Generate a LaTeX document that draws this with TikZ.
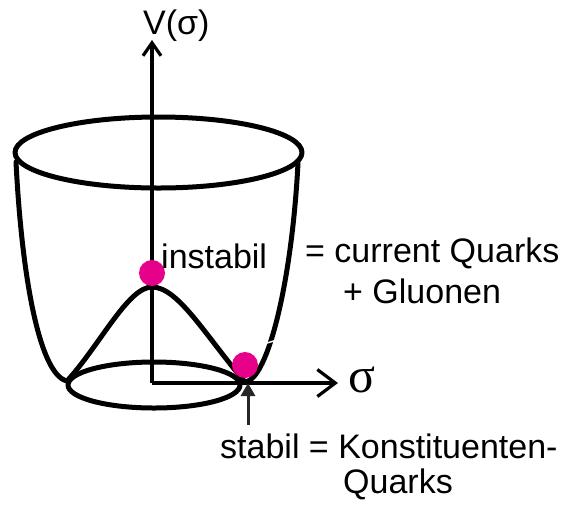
\documentclass[tikz,border=0pt]{standalone}
\usepackage{fontspec}
\setmainfont{Liberation Sans}
\newfontfamily\greekserif{Liberation Serif}
\usepackage{tikz}
\usetikzlibrary{arrows.meta,positioning}
\definecolor{dotpink}{RGB}{230,0,138}

\begin{document}
\begin{tikzpicture}[
    x=1pt, y=-1pt,
    cupline/.style={line width=5pt, line join=round, line cap=round},
    axis/.style={line width=3.2pt},
    label/.style={inner sep=0pt, anchor=base west, font=\fontsize{34}{40}\selectfont},
    ball/.style={circle, fill=dotpink, inner sep=0pt, minimum size=26pt},
    pointer/.style={line width=3pt, draw=black!85, -{Triangle[length=13pt,width=14pt]}}
]
\useasboundingbox (0,0) rectangle (561,507);

% Cup
\draw[cupline] (158.5,152.5) ellipse [x radius=143.5pt, y radius=35.5pt];
\draw[cupline] (154,385) ellipse [x radius=86pt, y radius=23pt];
\draw[cupline] (16,162) .. controls (22,280) and (40,375) .. (67,381)
    .. controls (100,345) and (128,287) .. (152,287)
    .. controls (178,287) and (205,335) .. (245,382)
    .. controls (268,380) and (292,280) .. (298,163);
\draw[white, line width=1.5pt] (267,343) -- (277,340);

% Axes
\coordinate (origin) at (152,383);
\coordinate (vtop) at (152,40);
\coordinate (sright) at (338,383);
\draw[axis, -{Straight Barb[length=13pt,width=18pt]}] (origin) -- (vtop);
\draw[axis, -{Straight Barb[length=18pt,width=27pt]}] (origin) -- (sright);

% Balls
\node[ball] (unstable) at (152,273) {};
\node[ball] (stable) at (245,365) {};

% Labels
\node[label] (vlabel) at (143,34) {V(σ)};
\node[label] (instabil) at (161,268) {instabil};
\node[label] (current) at (305,262) {= current Quarks};
\node[label] (gluon) at (343,303) {+ Gluonen};
\node[label] (stabil) at (220,458) {stabil = Konstituenten-};
\node[label] (quarks) at (343,493) {Quarks};
\node[label, font=\greekserif\fontsize{50}{56}\selectfont] (sigma) at (348,392) {σ};

% Pointer to the minimum
\coordinate (ptail) at (248,425);
\coordinate (phead) at (248,383);
\draw[pointer] (ptail) -- (phead);

\end{tikzpicture}
\end{document}
